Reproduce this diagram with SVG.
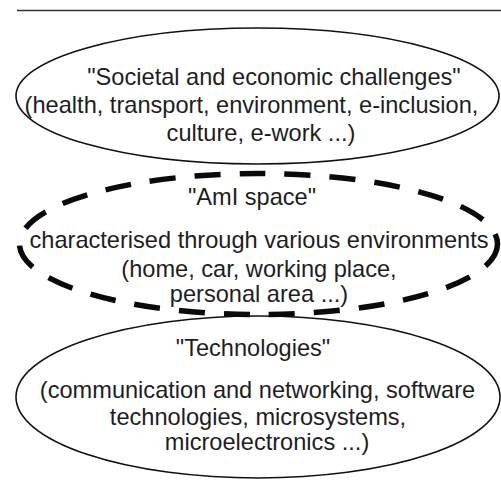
<svg xmlns="http://www.w3.org/2000/svg" width="501" height="490" viewBox="0 0 501 490">
<style>
.t{font-family:"Liberation Sans",Arial,sans-serif;font-size:23.6px;fill:#1e1e1e;text-anchor:middle}
.solid{fill:none;stroke:#111;stroke-width:1.6}
.dash{fill:none;stroke:#0a0a0a;stroke-width:5.5;stroke-dasharray:26 19}
</style>
<rect width="501" height="490" fill="#fff"/>
<line x1="17" y1="10.5" x2="501" y2="10.5" stroke="#333" stroke-width="1.5"/>
<g id="societal">
<ellipse class="solid" cx="257.5" cy="96" rx="241.5" ry="68"/>
<text class="t" x="274" y="85">"Societal and economic challenges"</text>
<text class="t" x="251.5" y="113">(health, transport, environment, e-inclusion,</text>
<text class="t" x="261" y="141">culture, e-work ...)</text>
</g>
<g id="technologies">
<ellipse class="solid" cx="258" cy="397" rx="242" ry="81"/>
<text class="t" x="253" y="356">"Technologies"</text>
<text class="t" x="257.5" y="398">(communication and networking, software</text>
<text class="t" x="258" y="425">technologies, microsystems,</text>
<text class="t" x="267" y="450">microelectronics ...)</text>
</g>
<g id="ami">
<ellipse class="dash" cx="258.5" cy="244" rx="239" ry="70.5"/>
<text class="t" x="252" y="205">"AmI space"</text>
<text class="t" x="259" y="248">characterised through various environments</text>
<text class="t" x="259" y="277">(home, car, working place,</text>
<text class="t" x="259" y="302">personal area ...)</text>
</g>
<g id="connectors"></g>
</svg>
